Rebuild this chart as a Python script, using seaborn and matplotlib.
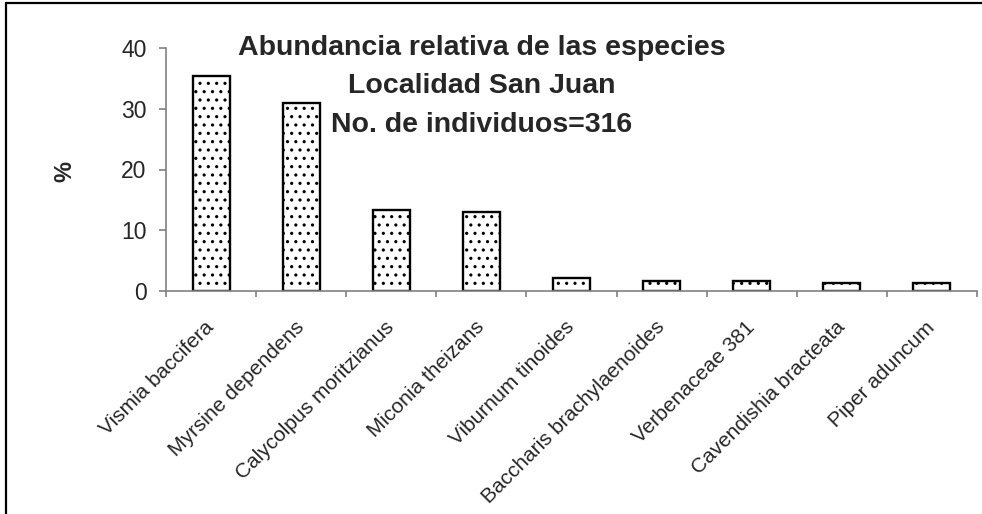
import numpy as np
import pandas as pd
import matplotlib
matplotlib.use("Agg")
import matplotlib.pyplot as plt
import seaborn as sns
from matplotlib.lines import Line2D

species = ["Vismia baccifera", "Myrsine dependens", "Calycolpus moritzianus",
           "Miconia theizans", "Viburnum tinoides", "Baccharis brachylaenoides",
           "Verbenaceae 381", "Cavendishia bracteata", "Piper aduncum"]
percent = [35.4, 30.9, 13.3, 13.0, 2.2, 1.6, 1.6, 1.3, 1.3]
title_lines = ["Abundancia relativa de las especies",
               "Localidad San Juan",
               "No. de individuos=316"]

sns.set_style("white")
plt.rcParams["font.family"] = ["Liberation Sans", "DejaVu Sans"]
plt.rcParams["hatch.linewidth"] = 1.1

df = pd.DataFrame({"especie": species, "pct": percent})

W, H = 982, 514
fig = plt.figure(figsize=(W / 100, H / 100), dpi=100)
ax = fig.add_axes([166 / W, 1 - 291 / H, (977 - 166) / W, (291 - 48) / H])

sns.barplot(data=df, x="especie", y="pct", color="white", edgecolor="black",
            linewidth=1.7, width=0.41, ax=ax)
for p in ax.patches:
    p.set_hatch("..")
    p.set_facecolor("white")

gray = "#808080"
ax.set_ylim(0, 40)
ax.set_xlim(-0.5, len(species) - 0.5)
ax.set_yticks([0, 10, 20, 30, 40])
for s in ["top", "right"]:
    ax.spines[s].set_visible(False)
for s in ["left", "bottom"]:
    ax.spines[s].set_color(gray)
    ax.spines[s].set_linewidth(1.2)

ax.tick_params(axis="y", direction="out", length=5, width=1.2, color=gray,
               labelsize=16.5, pad=9, left=True)
ax.set_xticks(np.arange(-0.5, len(species), 1.0), minor=True)
ax.tick_params(axis="x", which="minor", direction="out", length=4, width=1.2,
               color=gray, bottom=True)
ax.tick_params(axis="x", which="major", length=0, pad=24, labelsize=15)
ax.set_xticks(range(len(species)))
ax.set_xticklabels(species, rotation=45, ha="right", va="center",
                   rotation_mode="anchor")
ax.set_xlabel("")
ax.set_ylabel("%", fontsize=17, fontweight="bold")
ax.yaxis.set_label_coords(-0.11, 0.49)

# title, three lines
for txt, yb in zip(title_lines, [55, 93, 132]):
    fig.text(482 / W, 1 - yb / H, txt, ha="center", va="baseline",
             fontsize=20.5, fontweight="bold")

# outer frame (top and left edges only visible)
fig.add_artist(Line2D([6 / W, 1], [1 - 3 / H, 1 - 3 / H], color="black",
                      lw=1.6, transform=fig.transFigure))
fig.add_artist(Line2D([6 / W, 6 / W], [0, 1 - 3 / H], color="black",
                      lw=1.6, transform=fig.transFigure))

fig.savefig("out.png", dpi=100)
